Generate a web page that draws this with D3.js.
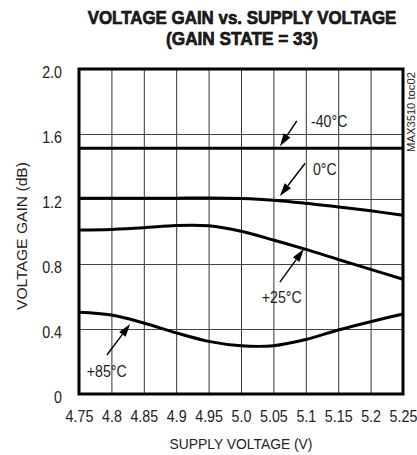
<!DOCTYPE html>
<html><head><meta charset="utf-8">
<script src="https://cdn.jsdelivr.net/npm/d3@7"></script>
<style>
html,body{margin:0;padding:0;background:#fff;}
svg{display:block;}
text{font-family:"Liberation Sans",Arial,sans-serif;fill:#222;}
</style></head>
<body>
<script>
// ---- data ----
const supplyVoltage = [4.75, 4.80, 4.85, 4.90, 4.95, 5.00, 5.05, 5.10, 5.15, 5.20, 5.25];
const xTickLabels = ["4.75","4.8","4.85","4.9","4.95","5.0","5.05","5.1","5.15","5.2","5.25"];
const yTickValues = [0, 0.4, 0.8, 1.2, 1.6, 2.0];
const yTickLabels = ["0","0.4","0.8","1.2","1.6","2.0"];
const gainM40 = [1.512,1.512,1.512,1.512,1.512,1.512,1.512,1.512,1.512,1.512,1.512];
const gain0   = [1.204,1.204,1.204,1.205,1.206,1.203,1.193,1.174,1.151,1.127,1.100];
const gain25  = [1.009,1.013,1.023,1.037,1.035,1.002,0.948,0.890,0.828,0.767,0.706];
const gain85  = [0.503,0.486,0.437,0.376,0.324,0.297,0.297,0.335,0.394,0.445,0.492];
const seriesNames = ["-40°C","0°C","+25°C","+85°C"];
// annotation positions in data units: label [x,y], arrow start [x,y], arrow tip [x,y]
const labelPos = [[5.108,1.643],[5.111,1.348],[5.032,0.560],[4.762,0.105]];
const arrowFrom = [[5.086,1.680],[5.099,1.420],[5.060,0.689],[4.793,0.240]];
const arrowTo   = [[5.060,1.525],[5.060,1.218],[5.097,0.892],[4.829,0.431]];
const titleLines = ["VOLTAGE GAIN vs. SUPPLY VOLTAGE","(GAIN STATE = 33)"];
const xTitle = "SUPPLY VOLTAGE (V)";
const yTitle = "VOLTAGE GAIN (dB)";
const figId = "MAX3510 toc02";

const W = 417, H = 455;
const m = {left:79, right:403, top:69, bottom:394};
const svg = d3.select("body").append("svg").attr("width",W).attr("height",H);

const x = d3.scaleLinear().domain([4.75,5.25]).range([m.left,m.right]);
const y = d3.scaleLinear().domain([0,2.0]).range([m.bottom,m.top]);

function fitText(sel, target){
  const w = sel.node().getComputedTextLength();
  return w > 0 ? target / w : 1;
}

// grid
const gx = svg.append("g").attr("transform",`translate(0,${m.bottom})`)
  .call(d3.axisBottom(x).tickValues(supplyVoltage.slice(1,-1)).tickSize(-(m.bottom-m.top)).tickFormat(""));
gx.select(".domain").remove();
gx.selectAll("line").attr("stroke","#333").attr("stroke-width",1);
const gy = svg.append("g").attr("transform",`translate(${m.left},0)`)
  .call(d3.axisLeft(y).tickValues(yTickValues.slice(1,-1)).tickSize(-(m.right-m.left)).tickFormat(""));
gy.select(".domain").remove();
gy.selectAll("line").attr("stroke","#444").attr("stroke-width",1);

const SX = 0.84;
// tick labels
const ax = svg.append("g").attr("transform",`translate(0,${m.bottom})`)
  .call(d3.axisBottom(x).tickValues(supplyVoltage).tickSize(0).tickPadding(0).tickFormat((d,i)=>xTickLabels[i]));
ax.select(".domain").remove();
ax.selectAll("text").attr("x",0).attr("y",28).attr("dy",0).attr("font-size",17)
  .attr("transform",`scale(${SX},1)`)
  .style("font-family",'"Liberation Sans",Arial,sans-serif').attr("fill","#222");
const ay = svg.append("g").attr("transform",`translate(${m.left},0)`)
  .call(d3.axisLeft(y).tickValues(yTickValues).tickSize(0).tickPadding(0).tickFormat((d,i)=>yTickLabels[i]));
ay.select(".domain").remove();
ay.selectAll("text").attr("x",-17/SX).attr("dy",0).attr("y",8).attr("font-size",17)
  .attr("transform",`scale(${SX},1)`)
  .style("font-family",'"Liberation Sans",Arial,sans-serif').attr("fill","#222");

// curves
const line = d3.line().x((d,i)=>x(supplyVoltage[i])).y(d=>y(d)).curve(d3.curveCatmullRom.alpha(0.5));
[gainM40,gain0,gain25,gain85].forEach(s=>{
  svg.append("path").attr("d",line(s)).attr("fill","none").attr("stroke","#000").attr("stroke-width",3);
});

// frame
svg.append("rect").attr("x",m.left).attr("y",m.top).attr("width",m.right-m.left).attr("height",m.bottom-m.top)
  .attr("fill","none").attr("stroke","#000").attr("stroke-width",3);

// annotations
seriesNames.forEach((name,i)=>{
  const x0=x(arrowFrom[i][0]), y0=y(arrowFrom[i][1]), x1=x(arrowTo[i][0]), y1=y(arrowTo[i][1]);
  const ang=Math.atan2(y1-y0,x1-x0), L=13, Wd=4;
  const bx=x1-L*Math.cos(ang), by=y1-L*Math.sin(ang);
  svg.append("line").attr("x1",x0).attr("y1",y0).attr("x2",bx).attr("y2",by).attr("stroke","#000").attr("stroke-width",1.4);
  const p=[[x1,y1],[bx+Wd*Math.sin(ang),by-Wd*Math.cos(ang)],[bx-Wd*Math.sin(ang),by+Wd*Math.cos(ang)]];
  svg.append("path").attr("d","M"+p.map(q=>q.join(",")).join("L")+"Z").attr("fill","#000");
  svg.append("text").attr("transform",`translate(${x(labelPos[i][0])},${y(labelPos[i][1])}) scale(0.86,1)`)
    .attr("font-size",16.5).text(name);
});

// titles
function condensed(tx, ty, str, size, weight, target, fill, rot, sw){
  const t = svg.append("text").attr("text-anchor","middle").attr("font-size",size).attr("font-weight",weight)
    .attr("fill",fill).text(str);
  if (sw) t.attr("stroke",fill).attr("stroke-width",sw);
  const s = fitText(t, target);
  t.attr("transform",`translate(${tx},${ty})${rot?" rotate(-90)":""} scale(${s},1)`);
  return t;
}
condensed(242,24,titleLines[0],18,"bold",309,"#000",false,0.6);
condensed(242,45,titleLines[1],18,"bold",152,"#000",false,0.6);
condensed(241,449,xTitle,15,"normal",143,"#222");
condensed(27,236,yTitle,15,"normal",148,"#222",true);
condensed(415,112,figId,10,"normal",80,"#555",true);
</script>
</body></html>
